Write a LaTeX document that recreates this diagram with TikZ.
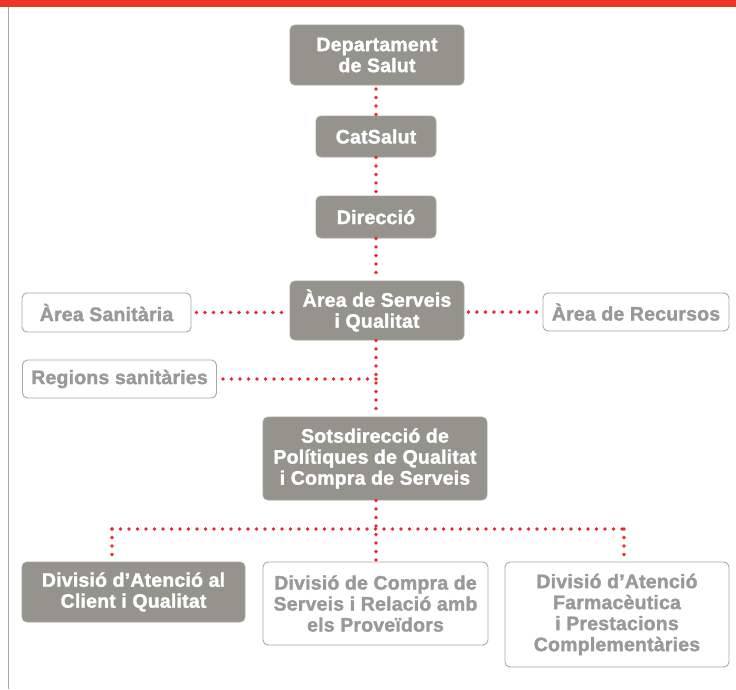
\documentclass[tikz,border=0pt]{standalone}
\usepackage{fontspec}
\setmainfont{Liberation Sans}[LetterSpace=1.0, BoldFeatures={FakeBold=1.6}]
\definecolor{barred}{HTML}{EE3427}
\definecolor{dotred}{HTML}{E8262A}
\definecolor{boxgrey}{HTML}{94948C}
\definecolor{txtgrey}{HTML}{999997}
\definecolor{edgegrey}{HTML}{A8A8A6}
\tikzset{
  solidbox/.style={rectangle, rounded corners=5pt, fill=boxgrey, draw=boxgrey!85!white, line width=0.8pt,
    text=white, font=\fontsize{19.5}{21}\selectfont\bfseries, align=center, inner sep=0pt},
  openbox/.style={rectangle, rounded corners=5pt, fill=white, draw=edgegrey, line width=0.9pt,
    text=txtgrey, font=\fontsize{19.5}{21}\selectfont\bfseries, align=center, inner sep=0pt},
  dots/.style={draw=dotred, line width=3.8pt, line cap=round, dash pattern=on 0pt off 8.5pt}
}
\begin{document}
\begin{tikzpicture}[x=1pt,y=-1pt]
\useasboundingbox (0,0) rectangle (736,689);
\fill[white] (0,0) rectangle (736,689);
\fill[barred] (0,0) rectangle (736,7);
\draw[edgegrey, line width=1pt] (8,7) -- (8,689);

\node[solidbox, minimum width=174pt, minimum height=60pt] (dept) at (377,55) {Departament\\de Salut};
\node[solidbox, minimum width=120pt, minimum height=41pt] (cat) at (376,136.5) {CatSalut};
\node[solidbox, minimum width=120pt, minimum height=42pt] (dir) at (376,217) {Direcció};
\node[solidbox, minimum width=174pt, minimum height=59pt] (area) at (377,310.5) {Àrea de Serveis\\i Qualitat};
\node[openbox, minimum width=169pt, minimum height=39pt] (sanit) at (106.5,312.5) {Àrea Sanitària};
\node[openbox, minimum width=186pt, minimum height=38pt] (recur) at (636,312) {Àrea de Recursos};
\node[openbox, minimum width=194pt, minimum height=38pt] (regions) at (119.5,379) {Regions sanitàries};
\node[solidbox, minimum width=224pt, minimum height=83pt] (sots) at (375,458.5) {Sotsdirecció de\\Polítiques de Qualitat\\i Compra de Serveis};
\node[solidbox, minimum width=223pt, minimum height=60pt] (d1) at (133.5,592) {Divisió d’Atenció al\\Client i Qualitat};
\node[openbox, minimum width=225pt, minimum height=83pt] (d2) at (375.5,603.5) {Divisió de Compra de\\Serveis i Relació amb\\els Proveïdors};
\node[openbox, minimum width=224pt, minimum height=105pt] (d3) at (617,614.5) {Divisió d’Atenció\\Farmacèutica\\i Prestacions\\Complementàries};

\coordinate (jreg) at (376,379);
\coordinate (bus) at (376,529);
\coordinate (busl) at (112,529);
\coordinate (busr) at (624,529);

\draw[dots] (376,89) -- (cat.north -| 376,0);
\draw[dots] (cat.south) -- (dir.north);
\draw[dots] (dir.south) -- (area.north -| dir.south);
\draw[dots] (area.south -| dir.south) -- (sots.north -| dir.south);
\draw[dots] (sanit.east) ++(5,0) -- (area.west |- sanit.east);
\draw[dots] (area.east |- recur.west) ++(4,0) -- (recur.west);
\draw[dots] (regions.east) ++(6,0) -- (jreg);
\draw[dots] (sots.south -| bus) -- (d2.north -| bus);
\draw[dots] (busl) -- (busr);
\draw[dots] (busl) -- (d1.north -| busl);
\draw[dots] (busr) -- (d3.north -| busr);
\end{tikzpicture}
\end{document}
